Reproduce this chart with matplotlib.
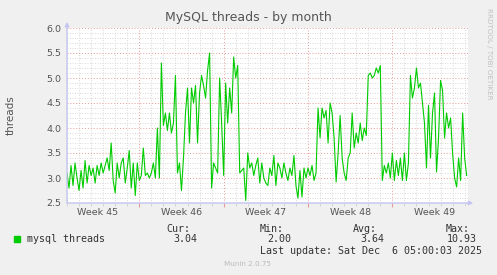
import matplotlib
matplotlib.use("Agg")
import matplotlib.pyplot as plt
from matplotlib.ticker import MultipleLocator, FixedLocator, NullFormatter, FormatStrFormatter
from matplotlib.patches import Rectangle
from matplotlib.transforms import blended_transform_factory
import numpy as np

# ---------------- data ----------------
title = "MySQL threads - by month"
y_label = "threads"
series_name = "mysql threads"
week_labels = ["Week 45", "Week 46", "Week 47", "Week 48", "Week 49"]
week_starts_days = [-1, 6, 13, 20, 27]     # day offset of each week's Monday
sample_hours = 4                            # spacing of the samples
stat_names = ["Cur:", "Min:", "Avg:", "Max:"]
stat_values = ["3.04", "2.00", "3.64", "10.93"]
last_update = "Last update: Sat Dec  6 05:00:03 2025"
footer = "Munin 2.0.75"
watermark = "RRDTOOL / TOBI OETIKER"

threads = [
    3.10, 2.80, 3.25, 2.85, 3.30, 3.00, 2.75, 3.15, 2.80, 3.35,
    2.90, 3.25, 3.05, 3.20, 2.90, 3.25, 3.05, 3.30, 3.10, 3.25,
    3.40, 3.15, 3.70, 2.95, 2.70, 3.30, 3.00, 3.30, 3.40, 2.90,
    3.20, 3.55, 2.80, 3.30, 2.65, 3.30, 2.95, 3.05, 3.60, 3.05,
    3.10, 3.00, 3.10, 3.30, 3.00, 4.00, 3.00, 5.30, 4.05, 4.30,
    3.95, 4.30, 3.90, 4.10, 5.05, 3.10, 3.30, 2.75, 3.40, 4.30,
    4.80, 3.70, 4.80, 4.50, 4.85, 3.70, 4.70, 5.05, 4.85, 4.60,
    5.15, 5.50, 2.80, 3.30, 3.20, 3.10, 5.00, 4.10, 3.05, 4.90,
    4.10, 4.80, 4.30, 5.42, 5.00, 5.25, 3.10, 3.15, 3.20, 2.55,
    3.50, 3.20, 3.30, 3.05, 3.25, 3.40, 2.90, 3.30, 3.00, 2.90,
    2.85, 3.20, 3.05, 3.45, 2.85, 3.30, 3.20, 3.00, 3.30, 3.10,
    2.95, 3.20, 3.05, 3.45, 2.85, 2.60, 3.15, 2.62, 3.20, 3.00,
    3.20, 3.05, 3.25, 2.95, 3.10, 4.40, 3.80, 4.40, 4.20, 4.35,
    3.70, 4.50, 4.30, 3.80, 2.92, 3.50, 4.25, 3.40, 3.10, 2.95,
    3.40, 3.50, 4.30, 3.60, 3.90, 3.70, 4.10, 3.75, 4.00, 3.85,
    5.05, 5.10, 5.00, 5.05, 5.20, 5.10, 5.25, 2.95, 3.25, 3.10,
    3.30, 3.00, 3.50, 2.95, 3.35, 3.05, 3.40, 2.95, 3.50, 2.95,
    3.30, 5.05, 4.60, 4.80, 5.20, 4.80, 4.90, 4.50, 4.10, 3.20,
    4.45, 3.40, 4.30, 4.70, 3.12, 3.80, 4.95, 4.75, 3.80, 4.30,
    4.00, 4.20, 3.50, 3.00, 2.82, 3.40, 2.95, 4.30, 3.40, 3.05,
]

# ---------------- figure ----------------
W, H = 497, 275
BG = "#F0F0F0"
TXT = "#555555"
fig = plt.figure(figsize=(W / 100, H / 100), dpi=100, facecolor=BG)

def fx(px):
    return px / W

def fy(py):
    return 1 - py / H

L, R, T, B = 67, 468, 28, 203
ax = fig.add_axes([fx(L), fy(B), (R - L) / W, (B - T) / H])
ax.set_facecolor("white")

x = np.arange(len(threads)) * sample_hours / 24.0
ax.plot(x, threads, color="#00CC00", lw=0.8, zorder=3)

ax.set_xlim(0, (R - L) / 12.05)
ax.set_ylim(2.5, 6.0)

# grid
ax.yaxis.set_major_locator(MultipleLocator(0.5))
ax.yaxis.set_minor_locator(MultipleLocator(0.1))
ax.yaxis.set_major_formatter(FormatStrFormatter("%.1f"))
ax.xaxis.set_major_locator(FixedLocator([d + 7 for d in week_starts_days[:-1]]))
ax.xaxis.set_minor_locator(MultipleLocator(1))
ax.xaxis.set_major_formatter(NullFormatter())
ax.set_axisbelow(True)
ax.grid(which="major", color="#E89A9A", ls=(0, (1, 2)), lw=0.7)
ax.grid(which="minor", color="#CCCCCC", ls=(0, (1, 2)), lw=0.6)

for s in ax.spines.values():
    s.set_visible(False)

ax.tick_params(axis="y", which="both", length=0, labelsize=6.8,
               labelcolor=TXT, pad=4)
ax.tick_params(axis="x", which="major", length=3, color="#E89A9A", width=0.8)
ax.tick_params(axis="x", which="minor", length=2, color="#CFCFCF", width=0.6)

# axis arrows
acol = "#C4C4F0"
ax.annotate("", xy=(0, 1.035), xytext=(0, 0), xycoords="axes fraction",
            arrowprops=dict(arrowstyle="-|>", color=acol, lw=1.0,
                            mutation_scale=6, shrinkA=0, shrinkB=0),
            annotation_clip=False)
ax.annotate("", xy=(1.013, 0), xytext=(0, 0), xycoords="axes fraction",
            arrowprops=dict(arrowstyle="-|>", color=acol, lw=1.0,
                            mutation_scale=6, shrinkA=0, shrinkB=0),
            annotation_clip=False)

# week labels centred in each week
trans = blended_transform_factory(ax.transData, ax.transAxes)
for start, lab in zip(week_starts_days, week_labels):
    ax.text(start + 3.5, -0.057, lab, transform=trans, ha="center",
            va="center", fontsize=6.8, color=TXT)

# title, y label, watermark
fig.text(fx(248), fy(18), title, ha="center", va="center",
         fontsize=9, color=TXT)
fig.text(fx(11), fy(115), y_label, ha="center", va="center",
         rotation=90, fontsize=7.5, color=TXT)
fig.text(fx(488.5), fy(54), watermark, ha="center", va="center",
         rotation=270, fontsize=5.1, color="#C0C0C0")

# legend
mono = "DejaVu Sans Mono"
fig.add_artist(Rectangle((fx(14), fy(242)), 6 / W, 6 / H,
                         transform=fig.transFigure, color="#00CC00"))
fig.text(fx(27), fy(239.5), series_name, ha="left", va="center",
         fontsize=7.2, family=mono, color="#333333")
name_right = [190, 284, 377, 470]
val_right = [197, 291, 384, 477]
for n, v, nr, vr in zip(stat_names, stat_values, name_right, val_right):
    fig.text(fx(nr), fy(228.5), n, ha="right", va="center",
             fontsize=7.2, family=mono, color="#333333")
    fig.text(fx(vr), fy(239.5), v, ha="right", va="center",
             fontsize=7.2, family=mono, color="#333333")
fig.text(fx(482), fy(251), last_update, ha="right", va="center",
         fontsize=7.2, family=mono, color="#333333")
fig.text(fx(247.5), fy(264.5), footer, ha="center", va="center",
         fontsize=5.2, color="#BBBBBB")

fig.savefig("out.png", dpi=100, facecolor=BG)
